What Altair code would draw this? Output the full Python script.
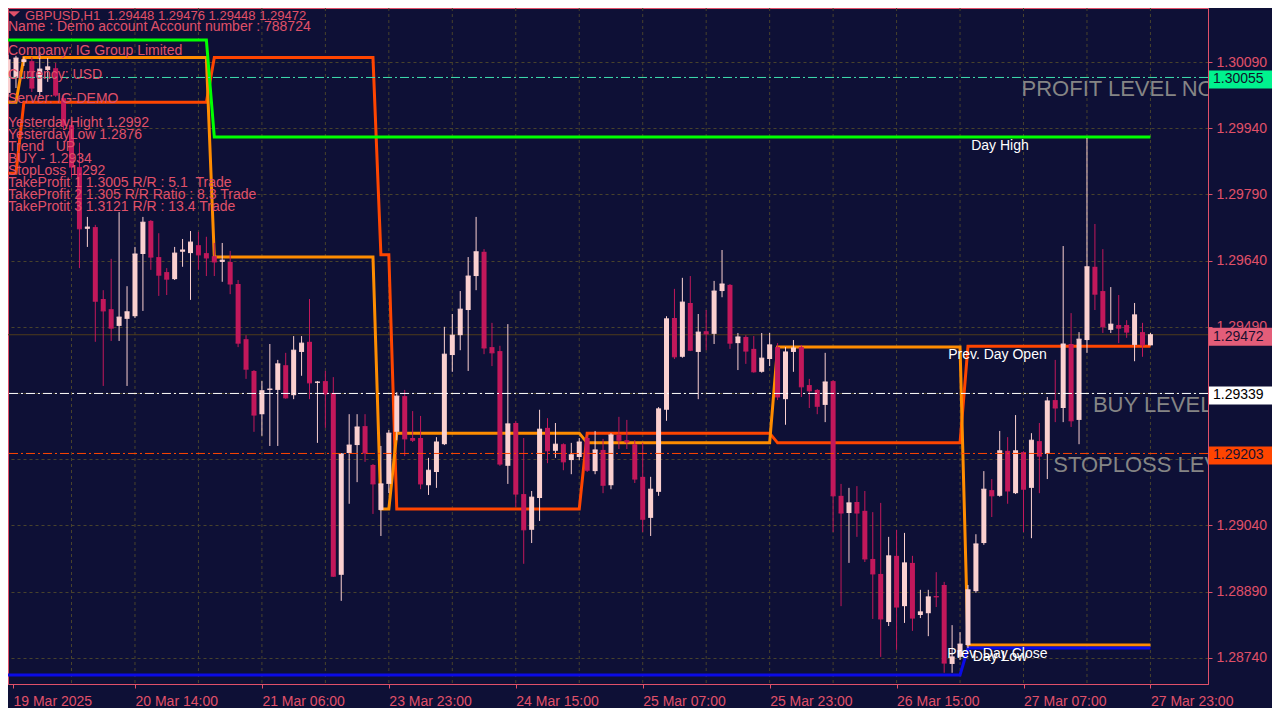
import json
import altair as alt
import pandas as pd

# ---------------- data ----------------
opens = [1.30020, 1.30054, 1.30090, 1.30092, 1.30022, 1.30072, 1.30076, 1.30008, 1.29947, 1.29852,
         1.29712, 1.29716, 1.29553, 1.29530, 1.29492, 1.29508, 1.29514, 1.29655, 1.29730, 1.29648,
         1.29614, 1.29598, 1.29660, 1.29657, 1.29675, 1.29657, 1.29650, 1.29637, 1.29637, 1.29587,
         1.29462, 1.29390, 1.29292, 1.29347, 1.29347, 1.29403, 1.29335, 1.29433, 1.29456, 1.29363,
         1.29367, 1.29340, 1.28928, 1.29204, 1.29222, 1.29265, 1.29177, 1.29075, 1.29134, 1.29252,
         1.29333, 1.29238, 1.29238, 1.29131, 1.29161, 1.29224, 1.29426, 1.29471, 1.29528, 1.29605,
         1.29660, 1.29444, 1.29435, 1.29175, 1.29272, 1.29111, 1.29030, 1.29102, 1.29261, 1.29209,
         1.29224, 1.29188, 1.29195, 1.29238, 1.29163, 1.29211, 1.29131, 1.29245, 1.29233, 1.29224,
         1.29150, 1.29057, 1.29116, 1.29302, 1.29510, 1.29422, 1.29544, 1.29433, 1.29480, 1.29474,
         1.29571, 1.29585, 1.29453, 1.29467, 1.29440, 1.29388, 1.29417, 1.29444, 1.29326, 1.29433,
         1.29444, 1.29358, 1.29347, 1.29313, 1.29367, 1.29107, 1.29068, 1.29093, 1.29073, 1.28964,
         1.28930, 1.28821, 1.28971, 1.28857, 1.28955, 1.28837, 1.28841, 1.28880, 1.28905, 1.28726,
         1.28742, 1.28769, 1.28891, 1.29000, 1.29120, 1.29107, 1.29209, 1.29113, 1.29206, 1.29125,
         1.29231, 1.29202, 1.29324, 1.29306, 1.29451, 1.29279, 1.29460, 1.29626, 1.29571, 1.29483,
         1.29494, 1.29494, 1.29449, 1.29478, 1.29448]
highs = [1.30106, 1.30104, 1.30101, 1.30101, 1.30113, 1.30099, 1.30088, 1.30015, 1.29954, 1.29907,
         1.29739, 1.29721, 1.29573, 1.29644, 1.29750, 1.29582, 1.29671, 1.29739, 1.29732, 1.29702,
         1.29623, 1.29671, 1.29689, 1.29707, 1.29705, 1.29694, 1.29680, 1.29680, 1.29662, 1.29596,
         1.29471, 1.29392, 1.29367, 1.29451, 1.29415, 1.29431, 1.29469, 1.29469, 1.29553, 1.29367,
         1.29390, 1.29376, 1.29204, 1.29292, 1.29292, 1.29292, 1.29179, 1.29220, 1.29256, 1.29342,
         1.29347, 1.29299, 1.29288, 1.29193, 1.29240, 1.29490, 1.29519, 1.29571, 1.29648, 1.29739,
         1.29666, 1.29499, 1.29447, 1.29496, 1.29277, 1.29238, 1.29118, 1.29302, 1.29283, 1.29272,
         1.29226, 1.29227, 1.29238, 1.29243, 1.29254, 1.29236, 1.29249, 1.29286, 1.29279, 1.29233,
         1.29227, 1.29150, 1.29308, 1.29514, 1.29576, 1.29601, 1.29605, 1.29519, 1.29528, 1.29594,
         1.29664, 1.29587, 1.29476, 1.29471, 1.29469, 1.29476, 1.29476, 1.29453, 1.29444, 1.29460,
         1.29449, 1.29372, 1.29349, 1.29431, 1.29369, 1.29134, 1.29125, 1.29129, 1.29118, 1.29070,
         1.29091, 1.29014, 1.29030, 1.29023, 1.28971, 1.28894, 1.28894, 1.28934, 1.28912, 1.28814,
         1.28798, 1.28905, 1.29020, 1.29163, 1.29145, 1.29254, 1.29240, 1.29290, 1.29208, 1.29249,
         1.29272, 1.29331, 1.29415, 1.29673, 1.29521, 1.29478, 1.29918, 1.29723, 1.29666, 1.29580,
         1.29562, 1.29505, 1.29544, 1.29499, 1.29476]
lows = [1.30011, 1.30031, 1.30081, 1.30022, 1.30011, 1.30045, 1.30011, 1.29936, 1.29829, 1.29623,
        1.29671, 1.29456, 1.29356, 1.29458, 1.29458, 1.29356, 1.29510, 1.29526, 1.29619, 1.29560,
        1.29562, 1.29596, 1.29626, 1.29551, 1.29619, 1.29605, 1.29605, 1.29592, 1.29564, 1.29444,
        1.29372, 1.29252, 1.29243, 1.29220, 1.29220, 1.29327, 1.29326, 1.29379, 1.29326, 1.29227,
        1.29261, 1.28923, 1.28869, 1.29089, 1.29138, 1.29184, 1.29066, 1.29016, 1.29113, 1.29233,
        1.29197, 1.29229, 1.29122, 1.29109, 1.29125, 1.29222, 1.29388, 1.29437, 1.29390, 1.29573,
        1.29428, 1.29401, 1.29175, 1.29134, 1.29082, 1.28953, 1.29000, 1.29050, 1.29181, 1.29193,
        1.29165, 1.29156, 1.29188, 1.29161, 1.29156, 1.29113, 1.29122, 1.29213, 1.29213, 1.29136,
        1.29025, 1.29016, 1.29107, 1.29277, 1.29417, 1.29420, 1.29435, 1.29326, 1.29437, 1.29451,
        1.29557, 1.29440, 1.29392, 1.29406, 1.29386, 1.29386, 1.29401, 1.29324, 1.29268, 1.29388,
        1.29331, 1.29306, 1.29292, 1.29274, 1.29025, 1.28857, 1.28955, 1.29014, 1.28957, 1.28828,
        1.28742, 1.28812, 1.28758, 1.28819, 1.28801, 1.28830, 1.28789, 1.28855, 1.28706, 1.28706,
        1.28735, 1.28762, 1.28887, 1.28996, 1.29059, 1.29105, 1.29089, 1.29111, 1.29025, 1.29011,
        1.29113, 1.29145, 1.29274, 1.29274, 1.29263, 1.29224, 1.29431, 1.29528, 1.29476, 1.29476,
        1.29453, 1.29465, 1.29412, 1.29422, 1.29448]
closes = [1.30095, 1.30099, 1.30095, 1.30031, 1.30074, 1.30079, 1.30015, 1.29947, 1.29852, 1.29712,
          1.29716, 1.29548, 1.29526, 1.29487, 1.29512, 1.29524, 1.29655, 1.29727, 1.29648, 1.29607,
          1.29598, 1.29657, 1.29664, 1.29682, 1.29653, 1.29646, 1.29637, 1.29641, 1.29587, 1.29453,
          1.29394, 1.29290, 1.29345, 1.29349, 1.29406, 1.29329, 1.29437, 1.29453, 1.29363, 1.29365,
          1.29338, 1.28925, 1.29202, 1.29222, 1.29263, 1.29204, 1.29134, 1.29134, 1.29249, 1.29333,
          1.29236, 1.29233, 1.29134, 1.29165, 1.29229, 1.29428, 1.29471, 1.29530, 1.29605, 1.29660,
          1.29442, 1.29431, 1.29179, 1.29270, 1.29111, 1.29030, 1.29104, 1.29258, 1.29209, 1.29224,
          1.29184, 1.29200, 1.29229, 1.29165, 1.29211, 1.29131, 1.29245, 1.29233, 1.29229, 1.29145,
          1.29054, 1.29122, 1.29304, 1.29508, 1.29422, 1.29546, 1.29437, 1.29478, 1.29474, 1.29571,
          1.29587, 1.29453, 1.29467, 1.29435, 1.29388, 1.29419, 1.29449, 1.29331, 1.29433, 1.29442,
          1.29354, 1.29345, 1.29310, 1.29365, 1.29107, 1.29068, 1.29091, 1.29068, 1.28964, 1.28930,
          1.28828, 1.28971, 1.28855, 1.28955, 1.28830, 1.28844, 1.28878, 1.28878, 1.28728, 1.28742,
          1.28771, 1.28894, 1.28998, 1.29122, 1.29107, 1.29209, 1.29118, 1.29209, 1.29122, 1.29233,
          1.29197, 1.29322, 1.29306, 1.29451, 1.29277, 1.29462, 1.29626, 1.29564, 1.29490, 1.29496,
          1.29487, 1.29478, 1.29517, 1.29449, 1.29472]
bars = list(range(len(opens)))

# indicator lines (vertices: bar index, price)
day_high_bars = [0, 25, 26, 144]
day_high_vals = [1.30140, 1.30140, 1.29920, 1.29920]
day_low_bars = [0, 120, 121, 144]
day_low_vals = [1.28701, 1.28701, 1.28762, 1.28762]
prev_bars = [0, 1, 2, 25, 26, 46, 47, 48, 49, 72, 73, 96, 97, 120, 121, 144]
prev_open_vals = [1.29838, 1.29838, 1.29999, 1.29999, 1.30100, 1.30100, 1.29653, 1.29653,
                  1.29077, 1.29077, 1.29249, 1.29249, 1.29227, 1.29227, 1.29446, 1.29446]
prev_close_vals = [1.29999, 1.29999, 1.30100, 1.30100, 1.29648, 1.29648, 1.29077, 1.29077,
                   1.29249, 1.29249, 1.29227, 1.29227, 1.29444, 1.29444, 1.28769, 1.28769]

# horizontal trade levels
level_names = ["PROFIT LEVEL NOW", "BUY LEVEL", "STOPLOSS LEVEL"]
level_prices = [1.30055, 1.29339, 1.29203]
level_label_bars = [127.75, 136.75, 131.75]
bid_price = 1.29472

# price tags on the right axis
tag_prices = [1.30055, 1.29472, 1.29339, 1.29203]

# indicator labels
ind_label_texts = ["Day High", "Prev. Day Open", "Prev. Day Close", "Day Low"]
ind_label_bars = [121.4, 118.5, 118.4, 121.6]
ind_label_prices = [1.29920, 1.29446, 1.28769, 1.28762]

# axes
y_ticks = [1.28740, 1.28890, 1.29040, 1.29190, 1.29340, 1.29490, 1.29640, 1.29790, 1.29940, 1.30090]
x_label_bars = [0, 16, 32, 48, 64, 80, 96, 112, 128, 144]
x_labels = ["19 Mar 2025", "20 Mar 14:00", "21 Mar 06:00", "23 Mar 23:00", "24 Mar 15:00",
            "25 Mar 07:00", "25 Mar 23:00", "26 Mar 15:00", "27 Mar 07:00", "27 Mar 23:00"]
grid_bars = [8, 16, 24, 32, 40, 48, 56, 64, 72, 80, 88, 96, 104, 112, 120, 128, 136, 144]

header_text = "GBPUSD,H1\u00a0\u00a01.29448 1.29476 1.29448 1.29472"
info_lines = [
    "Name : Demo account Account number : 788724",
    "Company: IG Group Limited",
    "Currency: USD",
    "Server: IG-DEMO",
    "YesterdayHight 1.2992",
    "YesterdayLow 1.2876",
    "Trend\u00a0\u00a0\u00a0UP",
    "BUY - 1.2934",
    "StopLoss 1.292",
    "TakeProfit 1 1.3005 R/R : 5.1\u00a0\u00a0Trade",
    "TakeProfit 2 1.305 R/R Ratio : 8.3 Trade",
    "TakeProtit 3 1.3121 R/R : 13.4 Trade",
]

# ---------------- styling ----------------
BG = "#0e1036"
PINK = "#e05069"
GRID = "#48422c"
BULL = "#fad0d0"
BEAR = "#c2185b"
FONT = "Liberation Sans"
W, H = 1200, 676
X_MIN, X_MAX = 0.625, 150.625
Y_MIN, Y_MAX = 1.286806, 1.302124
PX_PER_PRICE = H / (Y_MAX - Y_MIN)
info_rows = [19, 43, 67, 91, 115, 127, 139, 151, 163, 175, 187, 199]

xs = alt.Scale(domain=[X_MIN, X_MAX], nice=False, zero=False)
ys = alt.Scale(domain=[Y_MIN, Y_MAX], nice=False, zero=False)
x_tick_vals = [max(b, X_MIN) for b in x_label_bars]

X_AX = alt.Axis(values=x_tick_vals, labelExpr=json.dumps(x_labels) + "[round(datum.value / 16)]",
                labelAlign="left", labelBaseline="top", labelColor=PINK, labelFont=FONT,
                labelFontSize=14, labelPadding=6, tickColor=PINK, tickSize=4, domainColor=PINK,
                grid=False, title=None, labelOverlap=False, labelFlush=False, zindex=0)
Y_AX = alt.Axis(orient="right", values=y_ticks, format=".5f", labelColor=PINK, labelFont=FONT,
                labelFontSize=14, labelPadding=4, tickColor=PINK, tickSize=4, domainColor=PINK,
                grid=True, gridColor=GRID, gridDash=[3, 3], gridWidth=1, title=None,
                labelOverlap=False, labelFlush=False, zindex=0)


def xq(f):
    return alt.X(f, type="quantitative", scale=xs, axis=X_AX)


def yq(f):
    return alt.Y(f, type="quantitative", scale=ys, axis=Y_AX)


candles = pd.DataFrame({"bar": bars, "open": opens, "high": highs, "low": lows, "close": closes})
cond = alt.condition("datum.close >= datum.open", alt.value(BULL), alt.value(BEAR))

vgrid = alt.Chart(pd.DataFrame({"bar": grid_bars})).mark_rule(
    color=GRID, strokeDash=[3, 3], strokeWidth=1).encode(x=xq("bar"))

bid = alt.Chart(pd.DataFrame({"price": [bid_price]})).mark_rule(
    color="#4e3c1c", strokeWidth=1).encode(y=yq("price"))

series = []
for name, bs, vs in [("prev_open", prev_bars, prev_open_vals),
                     ("prev_close", prev_bars, prev_close_vals),
                     ("day_high", day_high_bars, day_high_vals),
                     ("day_low", day_low_bars, day_low_vals)]:
    for b, v in zip(bs, vs):
        series.append({"series": name, "bar": b, "price": v})
lines_df = pd.DataFrame(series)
ind_lines = alt.Chart(lines_df).mark_line(strokeWidth=3, clip=True).encode(
    x=xq("bar"), y=yq("price"),
    color=alt.Color("series:N", legend=None,
                    scale=alt.Scale(domain=["prev_open", "prev_close", "day_high", "day_low"],
                                    range=["#ff4500", "#ff8c00", "#00ff00", "#0b0be6"])),
    order=alt.Order("bar:Q"))

wicks = alt.Chart(candles).mark_rule(strokeWidth=1, clip=True).encode(
    x=xq("bar"), y=yq("low"), y2=alt.Y2("high"), color=cond)
bodies = alt.Chart(candles).mark_bar(width=5, clip=True).encode(
    x=xq("bar"), y=yq("open"), y2=alt.Y2("close"), color=cond)
body_min = alt.Chart(candles).mark_tick(orient="horizontal", size=5, thickness=1, clip=True,
                                         opacity=1).encode(x=xq("bar"), y=yq("close"), color=cond)

levels_df = pd.DataFrame({"name": level_names, "price": level_prices,
                          "clr": ["#3fe0b0", "#ffffff", "#ff4500"], "bar": level_label_bars})
level_rules = alt.Chart(levels_df).mark_rule(strokeDash=[9, 3, 2, 3], strokeWidth=1).encode(
    y=yq("price"), color=alt.Color("clr:N", scale=None))
level_text = alt.Chart(levels_df).mark_text(
    align="left", baseline="middle", dy=12, font=FONT, fontSize=22, color="#858585",
    clip=True).encode(x=xq("bar"), y=yq("price"), text="name:N")

ind_labels_df = pd.DataFrame({"t": ind_label_texts, "bar": ind_label_bars, "price": ind_label_prices})
ind_text = alt.Chart(ind_labels_df).mark_text(
    align="left", baseline="middle", dy=9, font=FONT, fontSize=14, color="#ffffff").encode(
    x=xq("bar"), y=yq("price"), text="t:N")

tags_df = pd.DataFrame({"price": tag_prices,
                        "fill": ["#00f28e", "#e35d79", "#ffffff", "#ff4500"],
                        "tc": ["#10142a", "#1a1030", "#000000", "#1a1030"]})
tags_df["top"] = tags_df["price"] + 7 / PX_PER_PRICE
tags_df["bot"] = tags_df["price"] - 11 / PX_PER_PRICE
tag_rect = alt.Chart(tags_df).mark_rect().encode(
    x=alt.value(W + 1), x2=alt.value(W + 64), y=yq("top"), y2=alt.Y2("bot"),
    color=alt.Color("fill:N", scale=None))
tag_text = alt.Chart(tags_df).mark_text(
    align="left", baseline="middle", dy=2, font=FONT, fontSize=14).encode(
    x=alt.value(W + 5), y=yq("price"), text=alt.Text("price:Q", format=".5f"),
    color=alt.Color("tc:N", scale=None))

info_layers = []
hdr = alt.Chart(pd.DataFrame({"t": [header_text]})).mark_text(
    align="left", baseline="middle", font=FONT, fontSize=13, color=PINK).encode(
    x=alt.value(17), y=alt.value(8), text="t:N")
info_layers.append(hdr)
for txt, row in zip(info_lines, info_rows):
    info_layers.append(alt.Chart(pd.DataFrame({"t": [txt]})).mark_text(
        align="left", baseline="middle", font=FONT, fontSize=14, color=PINK).encode(
        x=alt.value(0), y=alt.value(row), text="t:N"))
tri = alt.Chart(pd.DataFrame({"t": [0]})).mark_point(
    shape="M-1,-0.45L1,-0.45L0,0.45Z", filled=True, size=144, color=PINK, opacity=1).encode(
    x=alt.value(6), y=alt.value(6))

chart = alt.layer(
    vgrid, bid, ind_lines, wicks, bodies, body_min, level_rules, level_text, ind_text,
    tag_rect, tag_text, *info_layers, tri
).resolve_scale(color="independent").properties(
    width=W, height=H,
    padding={"left": 0, "top": 0, "right": 64, "bottom": 24},
    autosize=alt.AutoSizeParams(type="none"),
    background=BG,
).configure_view(stroke=PINK, strokeWidth=1, fill=BG)

chart.save("out.html", embed_options={"renderer": "svg", "actions": False})
